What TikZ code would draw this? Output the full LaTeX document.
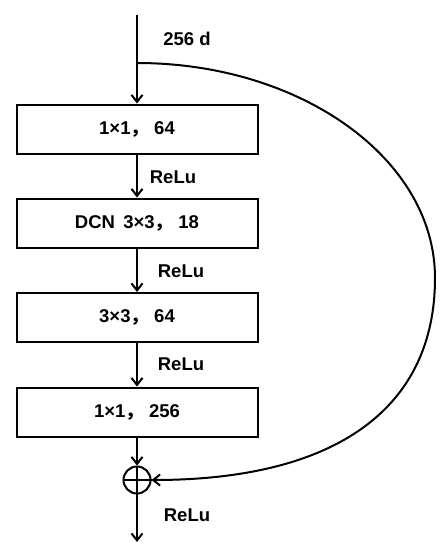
\documentclass[tikz,border=0pt]{standalone}
\usepackage{fontspec}
\setmainfont{Liberation Sans}
\newfontfamily\cjkfont{Noto Sans CJK SC}
\usetikzlibrary{positioning,arrows.meta}
\newcommand{\fwcomma}{{\cjkfont ，}}

\begin{document}
\begin{tikzpicture}[x=1pt,y=-1pt,
    layer/.style={draw, line width=2pt, minimum width=241pt, minimum height=49pt, inner sep=0pt, font=\fontsize{18.5}{22}\selectfont\bfseries},
    lbl/.style={inner sep=0pt, font=\fontsize{18.5}{22}\selectfont\bfseries},
    flow/.style={-{Straight Barb[length=7pt,width=11pt]}, line width=2pt}]

    \useasboundingbox (0,0) rectangle (444,550);

    \coordinate (in) at (137,15);
    \coordinate (split) at (137,63);
    \coordinate (far) at (435,278);
    \coordinate (out) at (137,542);

    \node[layer] (conv1) at (137,129) {1×1\fwcomma\ 64};
    \node[layer] (dcn) at (137,223) {DCN\hspace{0.45em}3×3\fwcomma\ 18};
    \node[layer] (conv3) at (137,317.5) {3×3\fwcomma\ 64};
    \node[layer] (conv4) at (137,412) {1×1\fwcomma\ 256};

    \node[circle, draw, line width=2pt, minimum size=27pt, inner sep=0pt] (sum) at (137,480) {};
    \draw[line width=2pt] (sum.north) -- (sum.south);
    \draw[line width=2pt] (sum.west) -- (sum.east);

    \node[lbl] (dim) at (187,39) {256 d};
    \node[lbl] (act1) at (173,177) {ReLu};
    \node[lbl] (act2) at (181,271) {ReLu};
    \node[lbl] (act3) at (181,364) {ReLu};
    \node[lbl] (act4) at (187,515) {ReLu};

    \draw[flow] (in) -- (conv1);
    \draw[flow] (conv1) -- (dcn);
    \draw[flow] (dcn) -- (conv3);
    \draw[flow] (conv3) -- (conv4);
    \draw[flow] (conv4) -- (sum);
    \draw[flow] (sum) -- (out);

    \draw[flow] (split) .. controls +(164,0) and +(0,-119) .. (far)
        .. controls +(0,130) and +(185,0) .. (sum.east);
\end{tikzpicture}
\end{document}
